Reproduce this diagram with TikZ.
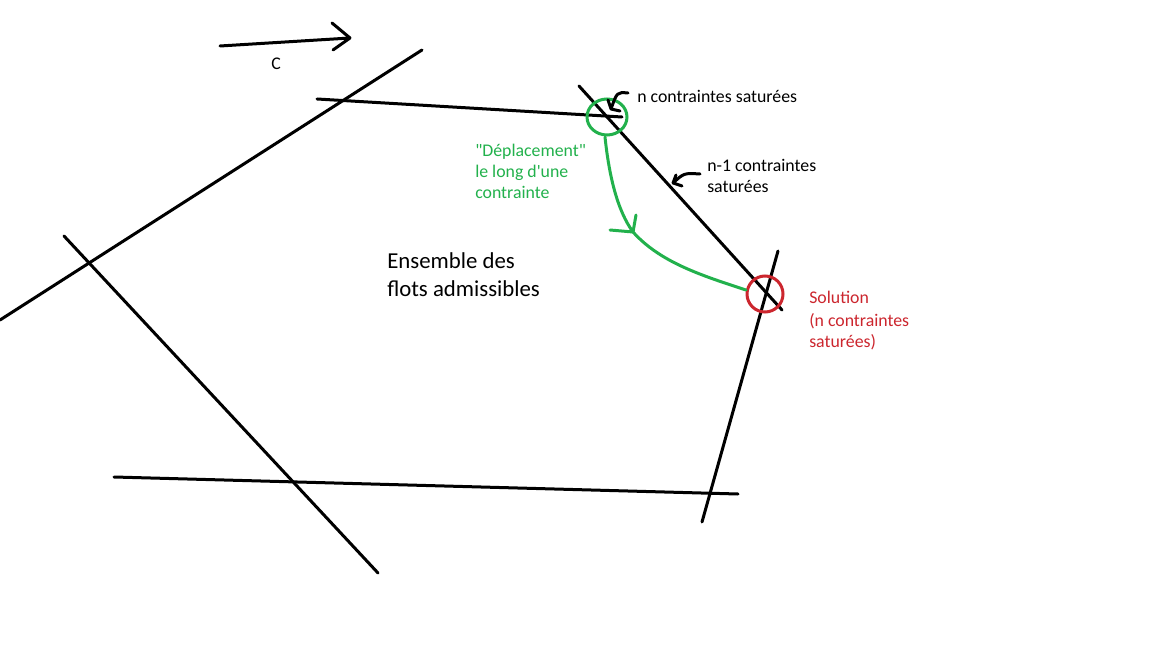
\documentclass[tikz,border=0pt]{standalone}
\usepackage{fontspec}
\setmainfont{Carlito}[Ligatures=TeXOff]
\definecolor{pgreen}{RGB}{34,177,76}
\definecolor{pred}{RGB}{204,38,46}
\begin{document}
\begin{tikzpicture}[x=0.75pt,y=-0.75pt,
  cline/.style={line width=2.25pt, line cap=round, line join=round},
  gline/.style={line width=2.25pt, line cap=round, line join=round, draw=pgreen},
  lbl/.style={font=\fontsize{13.35}{16}\selectfont, anchor=base west, inner sep=0pt},
  big/.style={font=\fontsize{17.1}{21}\selectfont, anchor=base west, inner sep=0pt}]
\useasboundingbox[fill=white] (0,0) rectangle (1152,648);
% constraint lines
\coordinate (a1) at (0,320);   \coordinate (a2) at (422,50);
\coordinate (b1) at (317,99);  \coordinate (b2) at (622,117);
\coordinate (d1) at (579,86);  \coordinate (d2) at (782,310);
\coordinate (r1) at (778,251); \coordinate (r2) at (702,522);
\coordinate (f1) at (114,477); \coordinate (f2) at (738,494);
\coordinate (l1) at (64,236);  \coordinate (l2) at (378,573);
\draw[cline] (a1) -- (a2);
\draw[cline] (b1) -- (b2);
\draw[cline] (d1) -- (d2);
\draw[cline] (r1) -- (r2);
\draw[cline] (f1) -- (f2);
\draw[cline] (l1) -- (l2);
% cost vector c
\coordinate (c1) at (220,46); \coordinate (c2) at (350,38);
\draw[cline] (c1) -- (c2) (c2) -- ++(-18,-15) (c2) -- ++(-17,12);
\node[lbl, anchor=base] (cl) at (276,70) {C};
% vertices
\coordinate (gv) at (607,117);
\draw[pgreen, line width=2.25pt] (gv) ellipse [x radius=20, y radius=18];
\coordinate (sol) at (765,294);
\draw[pred, line width=2.25pt] (sol) circle [radius=18];
% small pointer arrows
\coordinate (p1s) at (628,93); \coordinate (p1t) at (611,109);
\draw[cline] (p1s) .. controls (617,92) .. (p1t) (p1t) -- ++(-3,-9) (p1t) -- ++(9,2);
\coordinate (p2s) at (700,174); \coordinate (p2t) at (673,183);
\draw[cline] (p2s) .. controls (684,173) .. (p2t) (p2t) -- ++(3,-8) (p2t) -- ++(9,3);
% green displacement path
\coordinate (g0) at (605,137); \coordinate (gt) at (633,232); \coordinate (g1) at (746,290);
\draw[gline] (g0) .. controls (609,175) and (617,210) .. (gt) .. controls (660,262) and (700,275) .. (g1);
\draw[gline] (gt) -- ++(-23,-2) (gt) -- ++(3,-17);
% texts
\node[lbl] (t1) at (637,103) {n contraintes saturées};
\node[lbl] (t2a) at (707,172) {n-1 contraintes};
\node[lbl] (t2b) at (707,193) {saturées};
\node[lbl, text=pgreen] (g1a) at (475,157) {"Déplacement"};
\node[lbl, text=pgreen] (g1b) at (475,178) {le long d'une};
\node[lbl, text=pgreen] (g1c) at (475,199) {contrainte};
\node[big] (e1) at (387,269) {Ensemble des};
\node[big] (e2) at (387,297) {flots admissibles};
\node[lbl, text=pred] (s1) at (809,304) {Solution};
\node[lbl, text=pred] (s2) at (809,326) {(n contraintes};
\node[lbl, text=pred] (s3) at (809,348) {saturées)};
\end{tikzpicture}
\end{document}
